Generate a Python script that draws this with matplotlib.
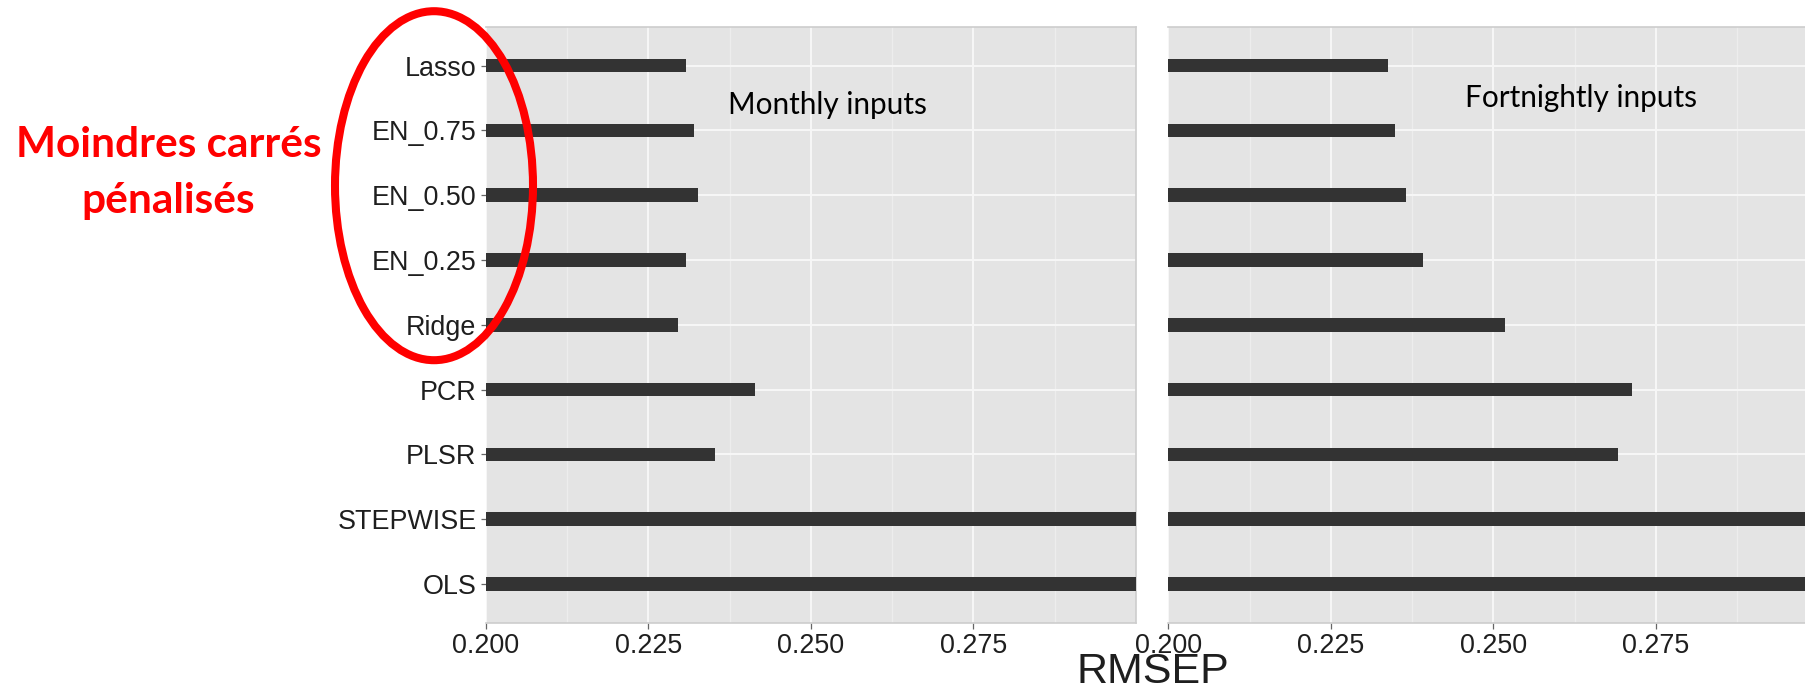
import numpy as np
import matplotlib.pyplot as plt
from matplotlib.patches import Ellipse

plt.rcParams['font.family'] = ['Liberation Sans', 'DejaVu Sans']

# models, top to bottom
models = ['Lasso', 'EN_0.75', 'EN_0.50', 'EN_0.25', 'Ridge', 'PCR', 'PLSR', 'STEPWISE', 'OLS']
# RMSEP per model (STEPWISE / OLS run off the right edge of the 0.2-0.3 window)
rmsep_monthly = [0.2308, 0.2320, 0.2326, 0.2308, 0.2296, 0.2414, 0.2352, 0.330, 0.340]
rmsep_fortnightly = [0.2338, 0.2349, 0.2365, 0.2392, 0.2518, 0.2713, 0.2691, 0.330, 0.340]
xticks = [0.200, 0.225, 0.250, 0.275]
xtick_labels = ['0.200', '0.225', '0.250', '0.275']

W, H = 1805, 692
fig = plt.figure(figsize=(W / 100, H / 100), dpi=100)

panel_bg = '#E4E4E4'
bar_col = '#333333'
tick_col = '#1e1e1e'

ypos = np.arange(len(models), 0, -1)  # Lasso at top

def px(x0, y0, x1, y1):
    # pixel box (top-left origin) -> figure fraction rect
    return [x0 / W, 1 - y1 / H, (x1 - x0) / W, (y1 - y0) / H]

ax1 = fig.add_axes(px(485.7, 26.7, 1136.0, 623.0))
ax2 = fig.add_axes(px(1168.3, 26.7, 1818.6, 623.0))

for ax, vals in [(ax1, rmsep_monthly), (ax2, rmsep_fortnightly)]:
    ax.set_facecolor(panel_bg)
    ax.barh(ypos, vals, height=0.21, color=bar_col, zorder=3)
    ax.set_xlim(0.2, 0.3)
    ax.set_ylim(0.4, len(models) + 0.6)
    ax.set_xticks(xticks)
    ax.set_xticklabels(xtick_labels)
    ax.set_xticks([0.2125, 0.2375, 0.2625, 0.2875], minor=True)
    ax.set_yticks(ypos)
    ax.grid(True, which='major', color='#F7F7F7', lw=1.4, zorder=1)
    ax.grid(True, which='minor', axis='x', color='#EDEDED', lw=0.9, zorder=1)
    ax.tick_params(axis='x', which='major', length=4.5, width=0.9, color='#666666',
                   labelsize=19.4, labelcolor=tick_col, pad=3)
    ax.tick_params(axis='x', which='minor', length=0)
    ax.tick_params(axis='y', length=3.6, width=0.9, color='#666666',
                   labelsize=19.4, labelcolor=tick_col, pad=3)
    for side in ['top', 'bottom', 'right']:
        ax.spines[side].set_color('#CDCDCD')
        ax.spines[side].set_linewidth(1.2)
    ax.spines['left'].set_visible(False)

ax1.set_yticklabels(models)
ax2.tick_params(axis='y', length=0, labelleft=False)
ax2.spines['right'].set_visible(False)

ax1.text(0.2373, 8.39, 'Monthly inputs', family=['Lato', 'DejaVu Sans'], fontsize=21.4,
         ha='left', va='center', color='black', zorder=5)
ax2.text(0.2456, 8.50, 'Fortnightly inputs', family=['Lato', 'DejaVu Sans'], fontsize=21.4,
         ha='left', va='center', color='black', zorder=5)

fig.text(1152.5 / W, (H - 683) / H, 'RMSEP', fontsize=31, ha='center', va='baseline',
         color=tick_col)

# group annotation on the left
red = '#FF0000'
fig.text(168.5 / W, (H - 157.3) / H, 'Moindres carrés', family=['Lato', 'DejaVu Sans'],
         fontsize=30.5, fontweight='bold', color=red, ha='center', va='baseline')
fig.text(168.5 / W, (H - 212.7) / H, 'pénalisés', family=['Lato', 'DejaVu Sans'],
         fontsize=30.5, fontweight='bold', color=red, ha='center', va='baseline')
ring = Ellipse((434 / W, (H - 185.7) / H), 198 / W, 349 / H, transform=fig.transFigure,
               fill=False, edgecolor=red, lw=5.8, zorder=10)
fig.add_artist(ring)

fig.savefig('out.png', dpi=100, facecolor='white')
